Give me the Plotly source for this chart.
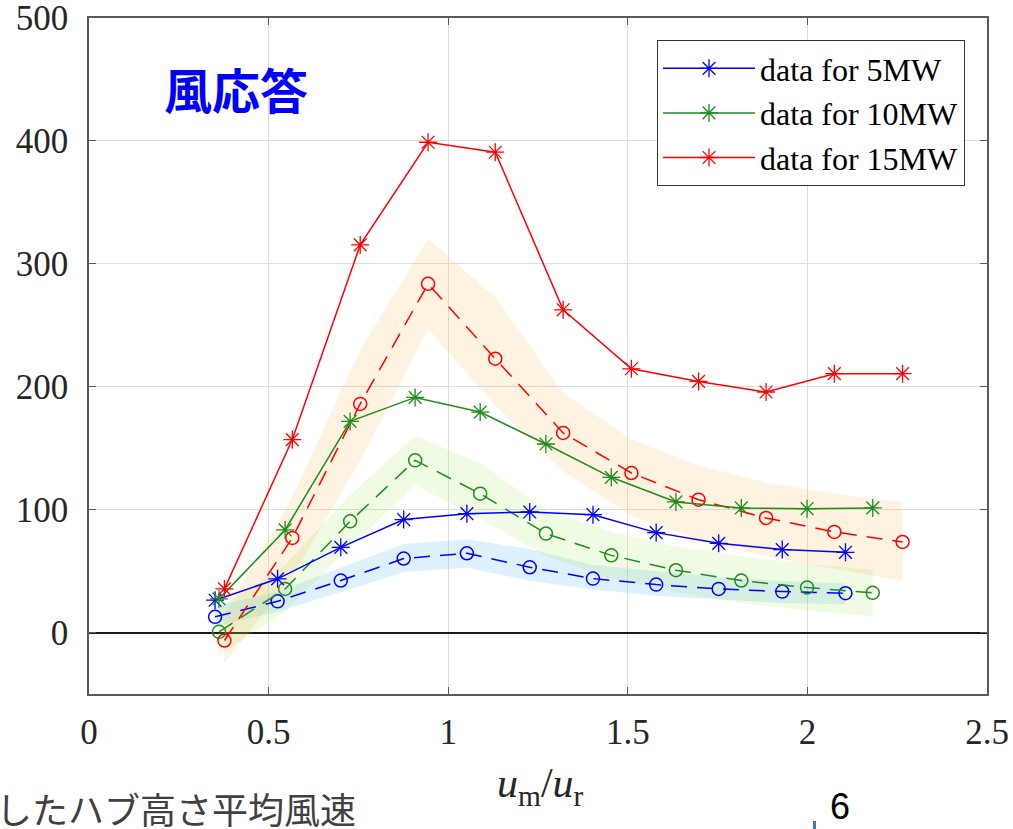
import plotly.graph_objects as go

# ---- data -------------------------------------------------------------
# 5 MW
x_5mw_data = [0.351, 0.525, 0.701, 0.876, 1.052, 1.227, 1.403, 1.579, 1.753, 1.930, 2.106]
y_5mw_data = [26.3, 43.7, 69.3, 91.9, 96.7, 98.1, 95.9, 81.3, 72.6, 67.5, 65.3]
y_5mw_fit = [12.8, 25.4, 42.3, 60.2, 64.5, 53.1, 43.9, 39.0, 35.5, 33.3, 32.0]
y_5mw_upper = [22, 33, 53, 72, 76, 68, 55, 50, 45, 42, 40]
y_5mw_lower = [5, 17, 33, 49, 53, 42, 35, 30, 27, 24, 23]

# 10 MW
x_10mw_data = [0.362, 0.546, 0.727, 0.908, 1.089, 1.272, 1.454, 1.634, 1.816, 1.999, 2.182]
y_10mw_data = [27.4, 83.5, 171.8, 191.3, 179.4, 153.4, 126.3, 106.3, 101.4, 100.8, 101.4]
y_10mw_fit = [0.6, 35.5, 90.5, 140.1, 113.0, 80.5, 62.8, 50.7, 42.3, 36.6, 32.3]
y_10mw_upper = [20, 55, 112, 160, 138, 100, 82, 70, 62, 56, 51]
y_10mw_lower = [-18, 17, 70, 120, 93, 62, 44, 33, 24, 18, 13]

# 15 MW
x_15mw_data = [0.377, 0.566, 0.755, 0.944, 1.131, 1.320, 1.510, 1.697, 1.885, 2.075, 2.265]
y_15mw_data = [35.5, 157.0, 315.4, 398.9, 390.8, 262.6, 214.6, 204.3, 195.7, 210.6, 210.6]
y_15mw_fit = [-6.5, 77.0, 186.0, 283.7, 222.8, 162.4, 129.8, 108.1, 93.2, 81.9, 73.7]
y_15mw_upper = [15, 110, 230, 320, 273, 195, 157, 136, 122, 113, 106]
y_15mw_lower = [-25, 45, 140, 247, 185, 131, 95, 76, 62, 52, 42]

series_names = ["data for 5MW", "data for 10MW", "data for 15MW"]
x_ticks = [0, 0.5, 1, 1.5, 2, 2.5]
y_ticks = [0, 100, 200, 300, 400, 500]

# ---- styling ----------------------------------------------------------
SERIF = "Liberation Serif, Times New Roman, serif"
CJK = "Noto Sans CJK JP, sans-serif"
colors = ["#0000ff", "#1f8c1f", "#ff0000"]
band_colors = ["rgba(0,150,255,0.13)", "rgba(150,230,60,0.15)", "rgba(250,170,50,0.15)"]

groups = [
    (x_5mw_data, y_5mw_data, y_5mw_fit, y_5mw_upper, y_5mw_lower),
    (x_10mw_data, y_10mw_data, y_10mw_fit, y_10mw_upper, y_10mw_lower),
    (x_15mw_data, y_15mw_data, y_15mw_fit, y_15mw_upper, y_15mw_lower),
]

fig = go.Figure()

# shaded spread bands (behind everything)
for (xs, _, _, up, lo), bc in zip(groups, band_colors):
    fig.add_trace(go.Scatter(
        x=list(xs) + list(xs)[::-1],
        y=list(up) + list(lo)[::-1],
        fill="toself", fillcolor=bc, line=dict(width=0),
        mode="lines", hoverinfo="skip", showlegend=False,
    ))

# dashed curves with open circles
for (xs, _, fit, _, _), c in zip(groups, colors):
    fig.add_trace(go.Scatter(
        x=xs, y=fit, mode="lines+markers", showlegend=False,
        line=dict(color=c, width=1.5, dash="16px,10px"),
        marker=dict(symbol="circle-open", size=13, color=c, line=dict(width=1.5, color=c)),
    ))

# measured data with asterisks
for (xs, ys, _, _, _), c, name in zip(groups, colors, series_names):
    fig.add_trace(go.Scatter(
        x=xs, y=ys, mode="lines+markers", name=name,
        line=dict(color=c, width=1.5),
        marker=dict(symbol="asterisk-open", size=15, color=c, line=dict(width=1.3, color=c)),
    ))

# plot area in pixels: x 89..987, y 18..694
W, H = 1013, 829
L, R, T, B = 89, 987, 18, 694
pw, ph = R - L, B - T


def px(x):
    return (x - L) / pw


def py(y):
    return (B - y) / ph


axis_common = dict(
    showline=True, linecolor="#5a5a5a", linewidth=1.5, mirror="ticks",
    ticks="inside", ticklen=7, tickwidth=1, tickcolor="#5a5a5a",
    showgrid=True, gridcolor="#dedede", gridwidth=1,
    tickfont=dict(family=SERIF, size=35, color="#262626"),
    automargin=False, ticklabeloverflow="allow",
)

fig.update_layout(
    width=W, height=H,
    margin=dict(l=L, r=W - R, t=T, b=H - B),
    paper_bgcolor="white", plot_bgcolor="white",
    xaxis=dict(range=[0, 2.5], tickvals=x_ticks, ticktext=[f"{v:g}" for v in x_ticks],
               zeroline=False, ticklabelstandoff=6, **axis_common),
    yaxis=dict(range=[-50, 500], tickvals=y_ticks, ticktext=[str(v) for v in y_ticks],
               zeroline=True, zerolinecolor="#1a1a1a", zerolinewidth=2,
               ticklabelstandoff=12, **axis_common),
    legend=dict(
        x=px(965), y=py(40), xanchor="right", yanchor="top",
        bgcolor="white", bordercolor="#333333", borderwidth=1,
        font=dict(family=SERIF, size=32, color="black"),
        itemwidth=92, tracegroupgap=0,
    ),
    showlegend=True,
)

# panel heading
fig.add_annotation(
    x=px(236), y=py(88), xref="paper", yref="paper", showarrow=False,
    text="<b>風応答</b>", font=dict(family=CJK, size=48, color="#0000ff"),
    xanchor="center", yanchor="middle",
)

# x-axis title
fig.add_annotation(
    x=px(540), y=py(786), xref="paper", yref="paper", showarrow=False,
    text="<i>u</i><sub>m</sub>/<i>u</i><sub>r</sub>",
    font=dict(family=SERIF, size=42, color="#262626"),
    xanchor="center", yanchor="middle",
)

# slide caption and page number
fig.add_annotation(
    x=px(358), y=py(808), xref="paper", yref="paper", showarrow=False,
    text="したハブ高さ平均風速", font=dict(family=CJK, size=36, color="#404040"),
    xanchor="right", yanchor="middle",
)
fig.add_annotation(
    x=px(840), y=py(806), xref="paper", yref="paper", showarrow=False,
    text="6", font=dict(family="Liberation Sans, Arial, sans-serif", size=36, color="black"),
    xanchor="center", yanchor="middle",
)
fig.add_shape(
    type="rect", xref="paper", yref="paper",
    x0=px(813), x1=px(816), y0=py(821), y1=py(830),
    fillcolor="#4472c4", line=dict(width=0),
)

fig.write_html("out.html")
